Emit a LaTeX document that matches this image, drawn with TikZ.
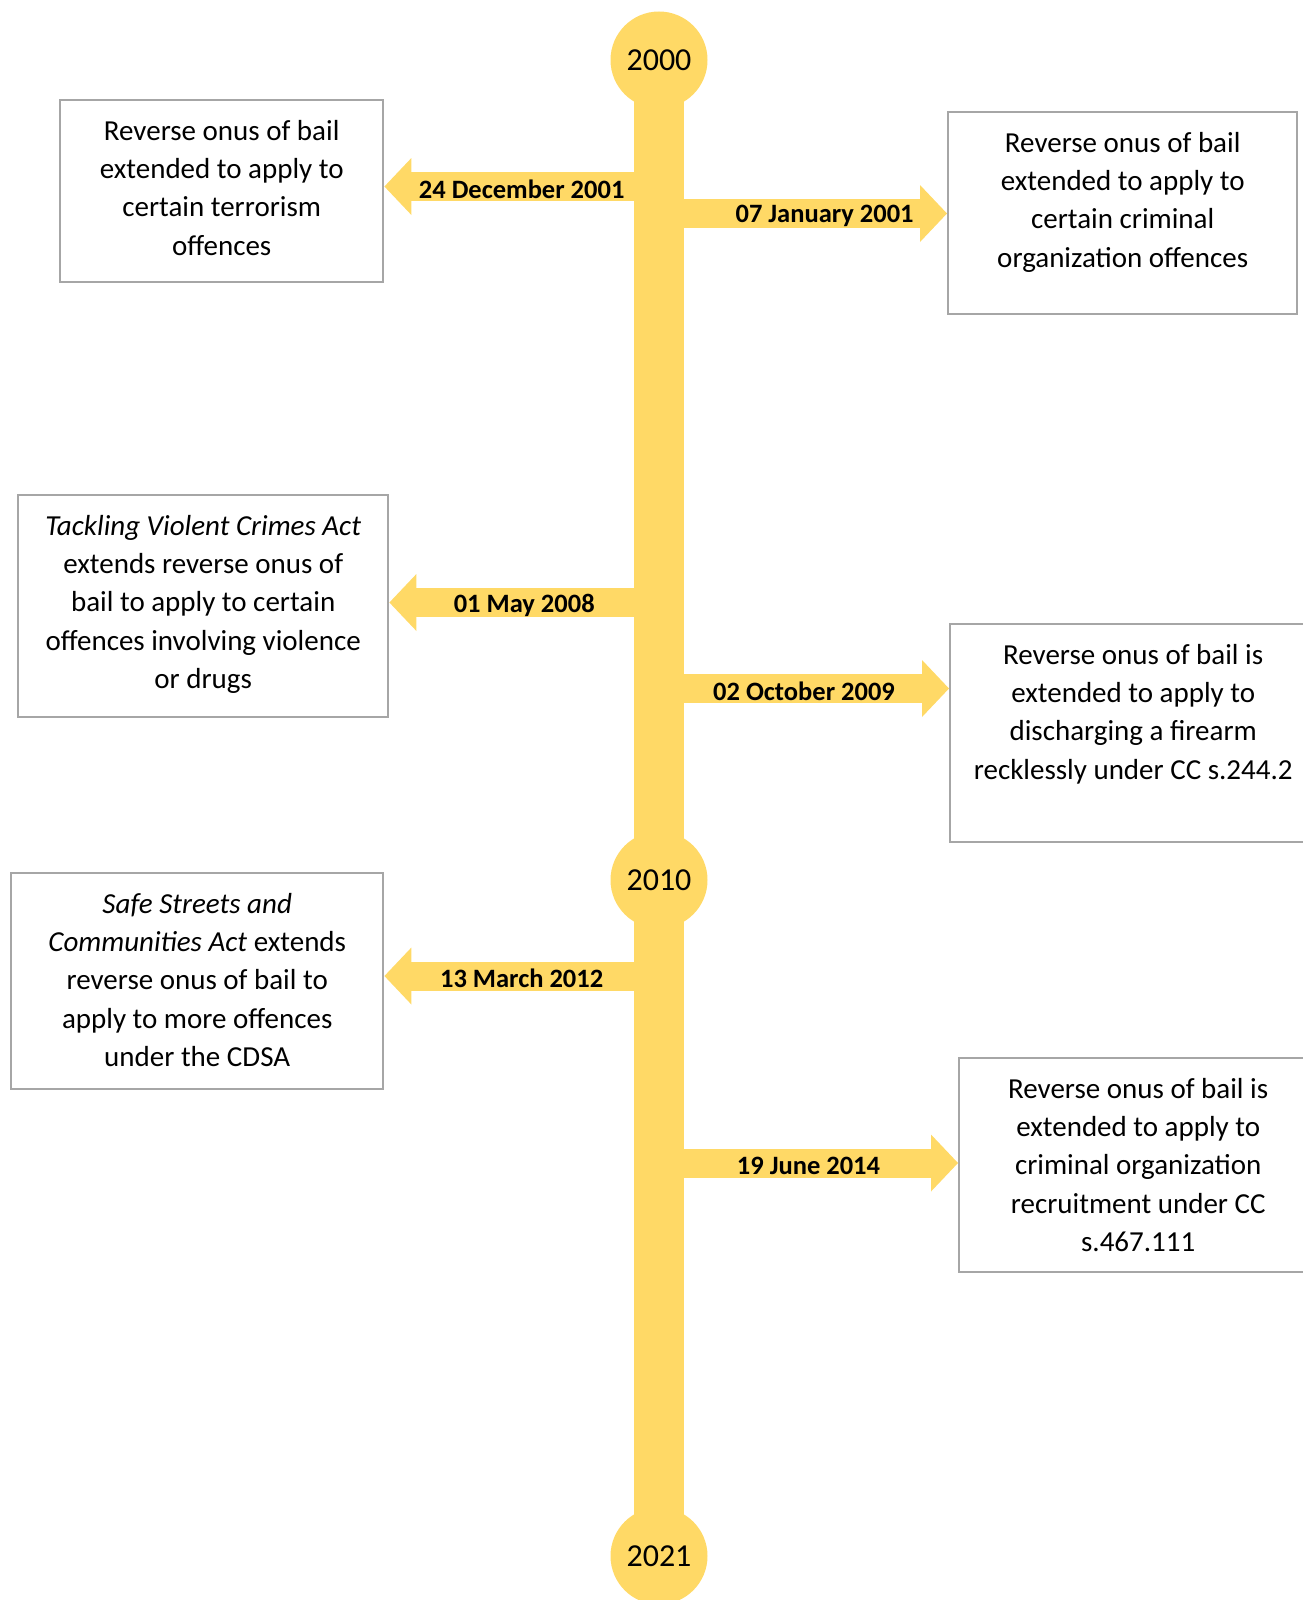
\documentclass[tikz,border=0pt]{standalone}
\usepackage{fontspec}
\setmainfont{Carlito}
\usetikzlibrary{arrows.meta, backgrounds}

\definecolor{gold}{HTML}{FFD966}
\definecolor{boxgray}{HTML}{A6A6A6}

% text of an event box, set from the top
\newcommand{\evtext}[3]{\parbox[c][#1][t]{#2}{\centering\vspace*{20pt}#3}}

\begin{document}
\begin{tikzpicture}[x=1pt, y=-1pt]
\tikzstyle{evbox} = [rectangle, draw=boxgray, line width=2.4pt, inner sep=0pt, anchor=north west, font=\fontsize{29}{38.3}\selectfont]
\tikzstyle{yearnode} = [circle, fill=gold, minimum size=97pt, inner sep=0pt, font=\fontsize{32}{36}\selectfont]
\tikzstyle{spine} = [draw=gold, line width=50pt]
\tikzstyle{datearrow} = [draw=gold, line width=29pt, -{Triangle[length=27pt, width=57pt, line width=0pt]}]
\tikzstyle{datelabel} = [inner sep=0pt, yshift=-2.5pt, font=\bfseries\fontsize{26.5}{30}\selectfont]

\useasboundingbox (0,0) rectangle (1302,1600);

% years on the time line
\node[yearnode] (y2000) at (659,60) {2000};
\node[yearnode] (y2010) at (659,880) {2010};
\node[yearnode] (y2021) at (659,1556) {2021};

% events, left side
\node[evbox] (l1) at (59,99) {\evtext{182pt}{323pt}{Reverse onus of bail\\extended to apply to\\certain terrorism\\offences}};
\node[evbox] (l2) at (17,494) {\evtext{222pt}{370pt}{\textit{Tackling Violent Crimes Act}\\extends reverse onus of\\bail to apply to certain\\offences involving violence\\or drugs}};
\node[evbox] (l3) at (10,872) {\evtext{216pt}{372pt}{\textit{Safe Streets and}\\\textit{Communities Act} extends\\reverse onus of bail to\\apply to more offences\\under the CDSA}};

% events, right side
\node[evbox] (r1) at (947,111) {\evtext{202pt}{349pt}{Reverse onus of bail\\extended to apply to\\certain criminal\\organization offences}};
\node[evbox] (r2) at (949,623) {\evtext{218pt}{366pt}{Reverse onus of bail is\\extended to apply to\\discharging a firearm\\recklessly under CC s.244.2}};
\node[evbox] (r3) at (958,1057) {\evtext{214pt}{358pt}{Reverse onus of bail is\\extended to apply to\\criminal organization\\recruitment under CC\\s.467.111}};

% dates on the spine
\coordinate (d1) at (659,186.5);
\coordinate (d2) at (659,213.5);
\coordinate (d3) at (659,602.5);
\coordinate (d4) at (659,688.5);
\coordinate (d5) at (659,976);
\coordinate (d6) at (659,1163);

\begin{scope}[on background layer]
\draw[spine] (y2000.center) -- (y2021.center);
\draw[datearrow] (d1) -- node[datelabel] {24 December 2001} (l1.east |- d1);
\draw[datearrow] (d2) -- node[datelabel, pos=0.575] {07 January 2001} (r1.west |- d2);
\draw[datearrow] (d3) -- node[datelabel] {01 May 2008} (l2.east |- d3);
\draw[datearrow] (d4) -- node[datelabel] {02 October 2009} (r2.west |- d4);
\draw[datearrow] (d5) -- node[datelabel] {13 March 2012} (l3.east |- d5);
\draw[datearrow] (d6) -- node[datelabel] {19 June 2014} (r3.west |- d6);
\end{scope}

\end{tikzpicture}
\end{document}
